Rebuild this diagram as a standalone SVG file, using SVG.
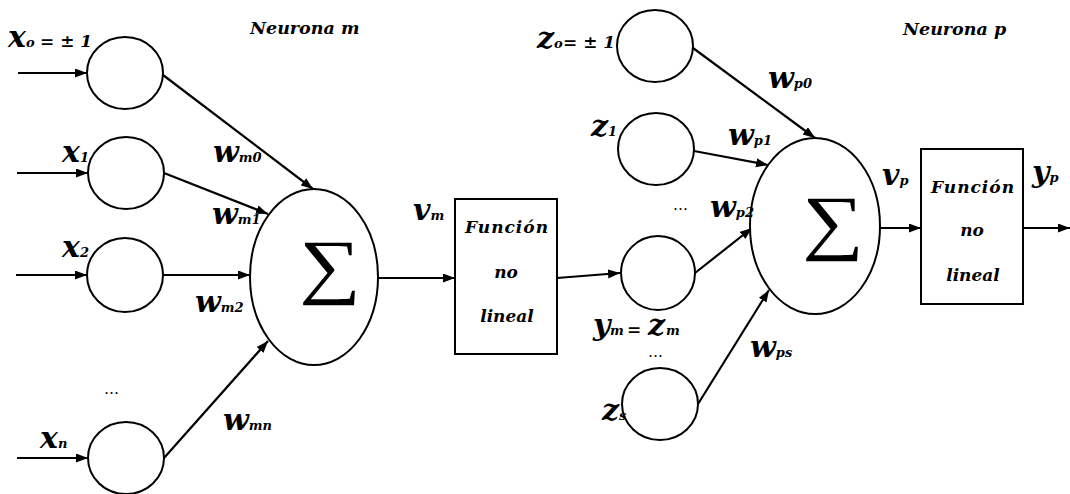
<svg xmlns="http://www.w3.org/2000/svg" width="1070" height="494" viewBox="0 0 1070 494">
<style>
.lbl{font-family:"DejaVu Serif",serif;font-weight:700;font-style:italic;fill:#000}
.big{font-size:30px}
.sub{font-size:13px}
.mid{font-size:17px}
.title{font-size:17.5px}
.fn{font-size:17px}
.sp{letter-spacing:1px}
.dots{font-family:"DejaVu Serif",serif;font-size:15px;fill:#000}
.sig{font-family:"Liberation Serif",serif;fill:#000}
.node{fill:#fff;stroke:#000;stroke-width:2}
.conn{stroke:#000;stroke-width:2.2;fill:none;marker-end:url(#ah)}
</style>
<defs>
<marker id="ah" markerUnits="userSpaceOnUse" markerWidth="13" markerHeight="10" refX="12" refY="4.5" orient="auto">
<path d="M0,0 L12,4.5 L0,9 z" fill="#000"/>
</marker>
</defs>
<rect width="1070" height="494" fill="#fff"/>
<g id="connectors">
<line class="conn" x1="18" y1="73" x2="87" y2="73"/>
<line class="conn" x1="17" y1="173" x2="88" y2="173"/>
<line class="conn" x1="16" y1="275" x2="87" y2="275"/>
<line class="conn" x1="17" y1="458" x2="88" y2="458"/>
<line class="conn" x1="163" y1="75" x2="313" y2="189"/>
<line class="conn" x1="164" y1="173" x2="268" y2="214"/>
<line class="conn" x1="163" y1="275" x2="250" y2="275"/>
<line class="conn" x1="164" y1="458" x2="268" y2="341"/>
<line class="conn" x1="378" y1="278" x2="455" y2="278"/>
<line class="conn" x1="557" y1="278" x2="620" y2="273"/>
<line class="conn" x1="693" y1="48" x2="815" y2="138"/>
<line class="conn" x1="694" y1="151" x2="768" y2="165"/>
<line class="conn" x1="695" y1="273" x2="752" y2="228"/>
<line class="conn" x1="698" y1="404" x2="769" y2="290"/>
<line class="conn" x1="880" y1="228" x2="921" y2="228"/>
<line class="conn" x1="1023" y1="228" x2="1070" y2="228"/>
</g>
<g id="x0"><ellipse class="node" cx="125" cy="73" rx="38" ry="36"/></g>
<g id="x1"><ellipse class="node" cx="126" cy="173" rx="38" ry="36"/></g>
<g id="x2"><ellipse class="node" cx="125" cy="275" rx="38" ry="37"/></g>
<g id="xn"><ellipse class="node" cx="126" cy="458" rx="38" ry="36"/></g>
<g id="sum_m"><ellipse class="node" cx="314" cy="277" rx="64" ry="88"/><text class="sig" font-size="72" transform="translate(330,290) scale(1.2,1)" text-anchor="middle">∑</text></g>
<g id="box_m"><rect class="node" x="455" y="199" width="102" height="155"/>
<text class="lbl fn sp" x="507" y="233" text-anchor="middle">Función</text>
<text class="lbl fn" x="506" y="278" text-anchor="middle">no</text>
<text class="lbl fn" x="507" y="322" text-anchor="middle">lineal</text></g>
<g id="z0"><ellipse class="node" cx="655" cy="46" rx="38" ry="36"/></g>
<g id="z1"><ellipse class="node" cx="656" cy="149" rx="38" ry="36"/></g>
<g id="zm"><ellipse class="node" cx="658" cy="273" rx="37" ry="37"/></g>
<g id="zs"><ellipse class="node" cx="660" cy="404" rx="38" ry="36"/></g>
<g id="sum_p"><ellipse class="node" cx="815" cy="226" rx="65" ry="88"/><text class="sig" font-size="72" transform="translate(833,246) scale(1.2,1)" text-anchor="middle">∑</text></g>
<g id="box_p"><rect class="node" x="921" y="149" width="102" height="155"/>
<text class="lbl fn sp" x="973" y="193" text-anchor="middle">Función</text>
<text class="lbl fn" x="972" y="236" text-anchor="middle">no</text>
<text class="lbl fn" x="973" y="281" text-anchor="middle">lineal</text></g>
<g id="labels">
<text class="lbl title" x="250" y="34">Neurona m</text>
<text class="lbl title" x="903" y="35">Neurona p</text>
<text class="lbl big" x="8" y="47">x<tspan class="sub">o</tspan><tspan class="mid" x="40">= ± 1</tspan></text>
<text class="lbl big" x="62" y="162">x<tspan class="sub">1</tspan></text>
<text class="lbl big" x="62" y="257">x<tspan class="sub">2</tspan></text>
<text class="lbl big" x="40" y="448">x<tspan class="sub">n</tspan></text>
<text class="lbl big" x="213" y="162">w<tspan class="sub">m0</tspan></text>
<text class="lbl big" x="212" y="224">w<tspan class="sub">m1</tspan></text>
<text class="lbl big" x="195" y="312">w<tspan class="sub">m2</tspan></text>
<text class="lbl big" x="223" y="430">w<tspan class="sub">mn</tspan></text>
<text class="dots" x="104" y="394">…</text>
<text class="lbl big" x="413" y="220">v<tspan class="sub">m</tspan></text>
<text class="lbl big" x="537" y="48">z<tspan class="sub">o</tspan><tspan class="mid" x="563">= ± 1</tspan></text>
<text class="lbl big" x="591" y="136">z<tspan class="sub">1</tspan></text>
<text class="dots" x="673" y="210">…</text>
<text class="lbl big" x="593" y="335">y<tspan class="sub" x="610">m</tspan><tspan class="mid" x="627">=</tspan><tspan x="648">z</tspan><tspan class="sub" x="666">m</tspan></text>
<text class="dots" x="648" y="357">…</text>
<text class="lbl big" x="602" y="420">z<tspan class="sub">s</tspan></text>
<text class="lbl big" x="768" y="88">w<tspan class="sub">p0</tspan></text>
<text class="lbl big" x="728" y="145">w<tspan class="sub">p1</tspan></text>
<text class="lbl big" x="710" y="217">w<tspan class="sub">p2</tspan></text>
<text class="lbl big" x="750" y="357">w<tspan class="sub">ps</tspan></text>
<text class="lbl big" x="882" y="185">v<tspan class="sub">p</tspan></text>
<text class="lbl big" x="1032" y="182">y<tspan class="sub">p</tspan></text>
</g>
</svg>
